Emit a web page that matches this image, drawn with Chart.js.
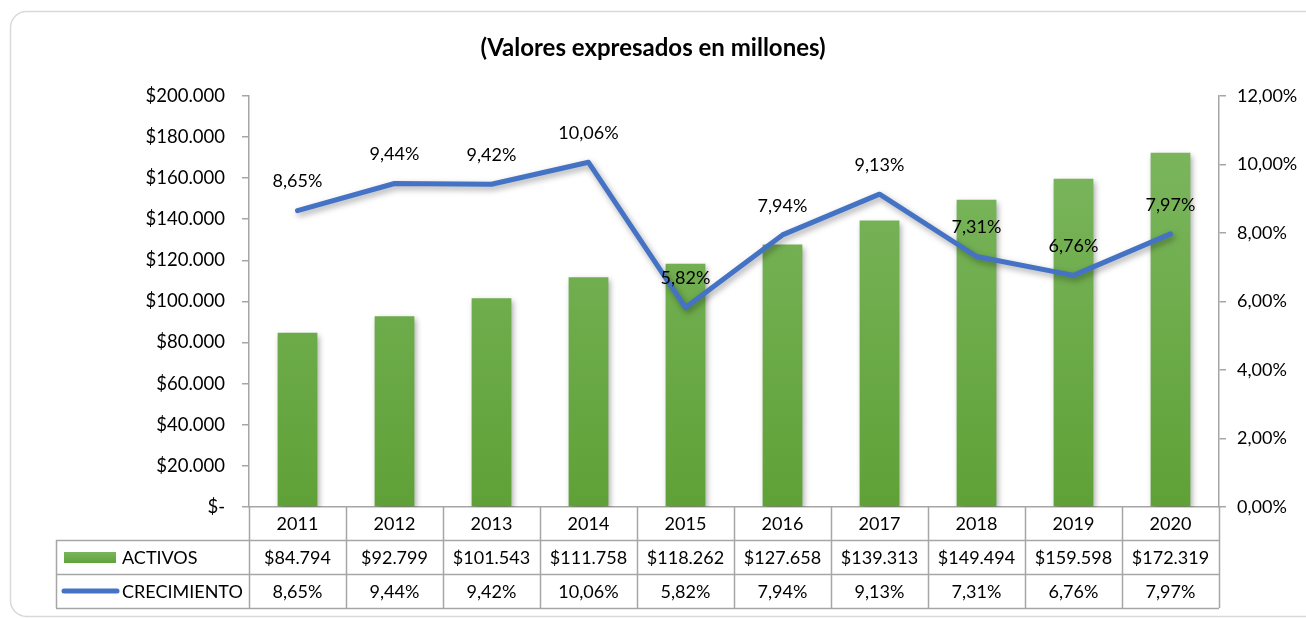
<!DOCTYPE html>
<html>
<head>
<meta charset="utf-8">
<script src="https://cdn.jsdelivr.net/npm/chart.js@4.4.1/dist/chart.umd.min.js"></script>
<style>
  html, body { margin: 0; padding: 0; background: #fff; }
  #wrap { width: 1306px; height: 618px; }
</style>
</head>
<body>
<div id="wrap"><canvas id="myChart" width="1306" height="618"></canvas></div>
<script>
// datos del grafico
const anios = ['2011', '2012', '2013', '2014', '2015', '2016', '2017', '2018', '2019', '2020'];
const activos = [84794, 92799, 101543, 111758, 118262, 127658, 139313, 149494, 159598, 172319];
const crecimiento = [8.65, 9.44, 9.42, 10.06, 5.82, 7.94, 9.13, 7.31, 6.76, 7.97];
const ticksPesos = [0, 20000, 40000, 60000, 80000, 100000, 120000, 140000, 160000, 180000, 200000];
const ticksPorc = [0, 2, 4, 6, 8, 10, 12];

const fuente = 'Lato, "Open Sans", sans-serif';
const gris = '#a6a6a6';

function pesos(v) {
    if (v === 0) return '$-';
    return '$' + v.toString().replace(/\B(?=(\d{3})+(?!\d))/g, '.');
}
function porc(v, dec) {
    return v.toFixed(dec).replace('.', ',') + '%';
}

//Marco redondeado
const marco = {
    id: 'marco',
    beforeDraw(chart) {
        const ctx = chart.ctx;
        ctx.save();
        ctx.fillStyle = '#fff';
        ctx.fillRect(0, 0, chart.width, chart.height);
        ctx.strokeStyle = '#d9d9d9';
        ctx.lineWidth = 1.5;
        ctx.beginPath();
        ctx.roundRect(10.5, 11.5, 1400, 605, 16);
        ctx.stroke();
        ctx.restore();
    }
};

//Sombra para barras y linea
const sombra = {
    id: 'sombra',
    beforeDatasetDraw(chart, args) {
        const ctx = chart.ctx;
        ctx.save();
        ctx.shadowColor = 'rgba(0,0,0,0.35)';
        ctx.shadowBlur = 6;
        ctx.shadowOffsetX = 2;
        ctx.shadowOffsetY = 3;
    },
    afterDatasetDraw(chart) {
        chart.ctx.restore();
    }
};

//Etiquetas de la linea
const etiquetas = {
    id: 'etiquetas',
    afterDatasetsDraw(chart) {
        const ctx = chart.ctx;
        const meta = chart.getDatasetMeta(0);
        ctx.save();
        ctx.font = '18px ' + fuente;
        ctx.fillStyle = '#000';
        ctx.textAlign = 'center';
        ctx.textBaseline = 'middle';
        meta.data.forEach(function (p, i) {
            ctx.fillText(porc(crecimiento[i], 2), p.x, p.y - 29);
        });
        ctx.restore();
    }
};

//Tabla de datos debajo del eje
const tabla = {
    id: 'tabla',
    afterDraw(chart) {
        const ctx = chart.ctx;
        const area = chart.chartArea;
        const n = anios.length;
        const colW = (area.right - area.left) / n;
        const top = area.bottom;
        const r1 = 540, r2 = 574, r3 = 608;
        const izq = 56;
        ctx.save();
        ctx.strokeStyle = gris;
        ctx.lineWidth = 1.5;
        ctx.beginPath();
        for (let i = 0; i <= n; i++) {
            const x = Math.round(area.left + i * colW) + 0.5;
            ctx.moveTo(x, top);
            ctx.lineTo(x, r3);
        }
        ctx.moveTo(izq + 0.5, r1);
        ctx.lineTo(izq + 0.5, r3);
        [r1, r2, r3].forEach(function (y) {
            ctx.moveTo(izq, y + 0.5);
            ctx.lineTo(area.right, y + 0.5);
        });
        ctx.stroke();

        ctx.font = '18px ' + fuente;
        ctx.fillStyle = '#000';
        ctx.textBaseline = 'middle';
        ctx.textAlign = 'center';
        for (let i = 0; i < n; i++) {
            const cx = area.left + (i + 0.5) * colW;
            ctx.fillText(pesos(activos[i]), cx, (r1 + r2) / 2 + 1);
            ctx.fillText(porc(crecimiento[i], 2), cx, (r2 + r3) / 2 + 1);
        }

        // claves de la leyenda
        const g = ctx.createLinearGradient(0, 552, 0, 564);
        g.addColorStop(0, '#7ab55c');
        g.addColorStop(1, '#5fa137');
        ctx.fillStyle = g;
        ctx.fillRect(64, 552, 52, 11);
        ctx.strokeStyle = '#4472c4';
        ctx.lineWidth = 5;
        ctx.lineCap = 'round';
        ctx.beginPath();
        ctx.moveTo(64, 591);
        ctx.lineTo(117, 591);
        ctx.stroke();

        ctx.fillStyle = '#000';
        ctx.textAlign = 'left';
        ctx.fillText('ACTIVOS', 122, (r1 + r2) / 2 + 1);
        ctx.fillText('CRECIMIENTO', 122, (r2 + r3) / 2 + 1);
        ctx.restore();
    }
};

const ctx = document.getElementById('myChart').getContext('2d');
const myChart = new Chart(ctx, {
    data: {
        labels: anios,
        datasets: [
            {
                type: 'line',
                label: 'CRECIMIENTO',
                data: crecimiento,
                yAxisID: 'y1',
                borderColor: '#4472c4',
                borderWidth: 5,
                pointRadius: 0,
                tension: 0,
                borderCapStyle: 'round',
                borderJoinStyle: 'round',
                order: 0
            },
            {
                type: 'bar',
                label: 'ACTIVOS',
                data: activos,
                yAxisID: 'y',
                backgroundColor: function (context) {
                    const a = context.chart.chartArea;
                    if (!a) return '#6aab47';
                    const g = context.chart.ctx.createLinearGradient(0, a.top + 60, 0, a.bottom);
                    g.addColorStop(0, '#7ab55c');
                    g.addColorStop(1, '#5fa137');
                    return g;
                },
                barPercentage: 0.41,
                categoryPercentage: 1,
                order: 1
            }
        ]
    },
    options: {
        responsive: false,
        animation: false,
        layout: { padding: { left: 0, right: 0, top: 0, bottom: 78 } },
        plugins: {
            legend: { display: false },
            tooltip: { enabled: false },
            title: {
                display: true,
                text: '(Valores expresados en millones)',
                color: '#000',
                font: { family: fuente, size: 24, weight: 'bold' },
                padding: { top: 34, bottom: 33 }
            }
        },
        scales: {
            x: {
                offset: true,
                grid: { display: false, drawTicks: false },
                border: { display: true, color: gris, width: 1.5 },
                ticks: { color: '#000', font: { family: fuente, size: 18 }, padding: 6 },
                afterFit: function (s) { s.height = 33; }
            },
            y: {
                position: 'left',
                min: 0,
                max: 200000,
                afterBuildTicks: function (s) { s.ticks = ticksPesos.map(v => ({ value: v })); },
                grid: { drawOnChartArea: false, tickLength: 7, color: gris, lineWidth: 1.5 },
                border: { color: gris, width: 1.5 },
                ticks: { color: '#000', font: { family: fuente, size: 18.5 }, padding: 17, callback: v => pesos(v) },
                afterFit: function (s) { s.width = 249; }
            },
            y1: {
                position: 'right',
                min: 0,
                max: 12,
                afterBuildTicks: function (s) { s.ticks = ticksPorc.map(v => ({ value: v })); },
                grid: { drawOnChartArea: false, tickLength: 7, color: gris, lineWidth: 1.5 },
                border: { color: gris, width: 1.5 },
                ticks: { color: '#000', font: { family: fuente, size: 18 }, padding: 11, callback: v => porc(v, 2) },
                afterFit: function (s) { s.width = 87; }
            }
        }
    },
    plugins: [marco, sombra, etiquetas, tabla]
});
</script>
</body>
</html>
